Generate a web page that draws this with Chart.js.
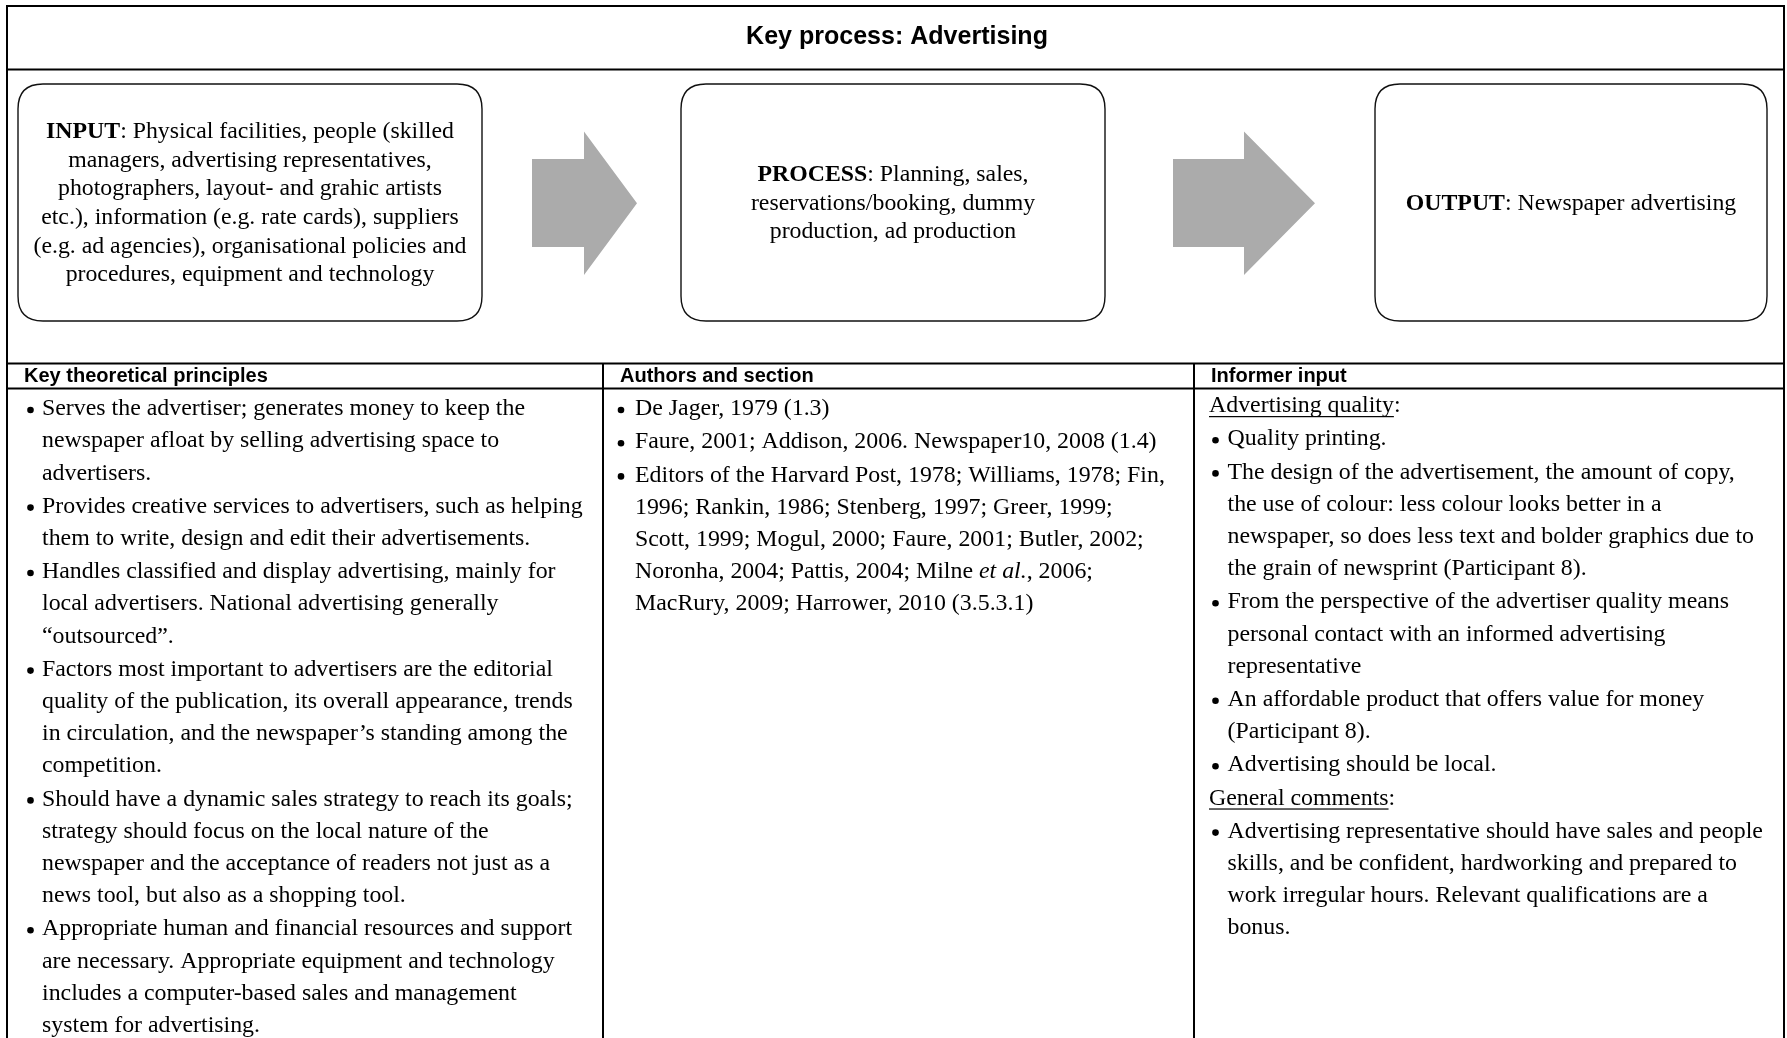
<!DOCTYPE html>
<html>
<head>
<meta charset="utf-8">
<title>Key process: Advertising</title>
<script src="https://cdn.jsdelivr.net/npm/chart.js@4.4.1/dist/chart.umd.min.js"></script>
<style>
  html, body { margin: 0; padding: 0; background: #fff; }
  #board { display: block; }
</style>
</head>
<body>
<canvas id="board" width="1787" height="1038"></canvas>
<script>
// ---- content ----
// markup: [b]..[/b] bold, [i]..[/i] italic, [u]..[/u] underline
const title = 'Key process: Advertising';

const inputLines = [
    '[b]INPUT[/b]: Physical facilities, people (skilled',
    'managers, advertising representatives,',
    'photographers, layout- and grahic artists',
    'etc.), information (e.g. rate cards), suppliers',
    '(e.g. ad agencies), organisational policies and',
    'procedures, equipment and technology'
];
const processLines = [
    '[b]PROCESS[/b]: Planning, sales,',
    'reservations/booking, dummy',
    'production, ad production'
];
const outputLines = [
    '[b]OUTPUT[/b]: Newspaper advertising'
];

const columnHeads = ['Key theoretical principles', 'Authors and section', 'Informer input'];

// arrays = bullet points (one string per printed line), strings = plain lines
const principles = [
    ['Serves the advertiser; generates money to keep the',
     'newspaper afloat by selling advertising space to',
     'advertisers.'],
    ['Provides creative services to advertisers, such as helping',
     'them to write, design and edit their advertisements.'],
    ['Handles classified and display advertising, mainly for',
     'local advertisers. National advertising generally',
     '\u201coutsourced\u201d.'],
    ['Factors most important to advertisers are the editorial',
     'quality of the publication, its overall appearance, trends',
     'in circulation, and the newspaper\u2019s standing among the',
     'competition.'],
    ['Should have a dynamic sales strategy to reach its goals;',
     'strategy should focus on the local nature of the',
     'newspaper and the acceptance of readers not just as a',
     'news tool, but also as a shopping tool.'],
    ['Appropriate human and financial resources and support',
     'are necessary. Appropriate equipment and technology',
     'includes a computer-based sales and management',
     'system for advertising.']
];

const authors = [
    ['De Jager, 1979 (1.3)'],
    ['Faure, 2001; Addison, 2006. Newspaper10, 2008 (1.4)'],
    ['Editors of the Harvard Post, 1978; Williams, 1978; Fin,',
     '1996; Rankin, 1986; Stenberg, 1997; Greer, 1999;',
     'Scott, 1999; Mogul, 2000; Faure, 2001; Butler, 2002;',
     'Noronha, 2004; Pattis, 2004; Milne [i]et al.[/i], 2006;',
     'MacRury, 2009; Harrower, 2010 (3.5.3.1)']
];

const informer = [
    '[u]Advertising quality[/u]:',
    ['Quality printing.'],
    ['The design of the advertisement, the amount of copy,',
     'the use of colour: less colour looks better in a',
     'newspaper, so does less text and bolder graphics due to',
     'the grain of newsprint (Participant 8).'],
    ['From the perspective of the advertiser quality means',
     'personal contact with an informed advertising',
     'representative'],
    ['An affordable product that offers value for money',
     '(Participant 8).'],
    ['Advertising should be local.'],
    '[u]General comments[/u]:',
    ['Advertising representative should have sales and people',
     'skills, and be confident, hardworking and prepared to',
     'work irregular hours. Relevant qualifications are a',
     'bonus.']
];

// ---- drawing helpers ----
const SERIF = '"Liberation Serif", "Times New Roman", serif';
const SANS = '"Liberation Sans", Arial, sans-serif';

function parseMarkup(str) {
    const segs = [];
    let b = false, i = false, u = false;
    str.split(/(\[\/?[biu]\])/).forEach(p => {
        if (p === '[b]') b = true;
        else if (p === '[/b]') b = false;
        else if (p === '[i]') i = true;
        else if (p === '[/i]') i = false;
        else if (p === '[u]') u = true;
        else if (p === '[/u]') u = false;
        else if (p) segs.push({ text: p, b, i, u });
    });
    return segs;
}

function segFont(s, size) {
    return (s.i ? 'italic ' : '') + (s.b ? 'bold ' : '') + size + 'px ' + SERIF;
}

function richWidth(ctx, str, size) {
    let w = 0;
    parseMarkup(str).forEach(s => { ctx.font = segFont(s, size); w += ctx.measureText(s.text).width; });
    return w;
}

function drawRich(ctx, str, x, y, size, align) {
    const segs = parseMarkup(str);
    let total = 0;
    segs.forEach(s => { ctx.font = segFont(s, size); s.w = ctx.measureText(s.text).width; total += s.w; });
    let cx = align === 'center' ? x - total / 2 : x;
    ctx.textAlign = 'left';
    ctx.textBaseline = 'middle';
    segs.forEach(s => {
        ctx.font = segFont(s, size);
        ctx.fillText(s.text, cx, y);
        if (s.u) ctx.fillRect(cx, y + size * 0.42, s.w, 1.2);
        cx += s.w;
    });
}

// font size so that a sample line is as wide as in the reference
function fitSerif(ctx, str, target) {
    return 100 * target / richWidth(ctx, str, 100);
}
function fitSans(ctx, str, target) {
    ctx.font = 'bold 100px ' + SANS;
    return 100 * target / ctx.measureText(str).width;
}

function roundBox(ctx, x0, y0, x1, y1, r) {
    ctx.beginPath();
    ctx.moveTo(x0 + r, y0);
    ctx.lineTo(x1 - r, y0);
    ctx.quadraticCurveTo(x1, y0, x1, y0 + r);
    ctx.lineTo(x1, y1 - r);
    ctx.quadraticCurveTo(x1, y1, x1 - r, y1);
    ctx.lineTo(x0 + r, y1);
    ctx.quadraticCurveTo(x0, y1, x0, y1 - r);
    ctx.lineTo(x0, y0 + r);
    ctx.quadraticCurveTo(x0, y0, x0 + r, y0);
    ctx.closePath();
    ctx.stroke();
}

function blockArrow(ctx, px, py, tail, neck, tip, top, bottom, shaftTop, shaftBottom) {
    const mid = (top + bottom) / 2;
    ctx.beginPath();
    ctx.moveTo(px(tail), py(shaftTop));
    ctx.lineTo(px(neck), py(shaftTop));
    ctx.lineTo(px(neck), py(top));
    ctx.lineTo(px(tip), py(mid));
    ctx.lineTo(px(neck), py(bottom));
    ctx.lineTo(px(neck), py(shaftBottom));
    ctx.lineTo(px(tail), py(shaftBottom));
    ctx.closePath();
    ctx.fill();
}

const diagramPlugin = {
    id: 'processDiagram',
    afterDraw(chart) {
        const ctx = chart.ctx;
        const xs = chart.scales.x, ys = chart.scales.y;
        const px = v => xs.getPixelForValue(v);
        const py = v => ys.getPixelForValue(v);
        ctx.save();
        ctx.fillStyle = '#000';

        // outer frame and grid lines
        ctx.strokeStyle = '#000';
        ctx.lineWidth = 2;
        const L = 7, R = 1784, T = 6, B = 1045;
        ctx.strokeRect(px(L), py(T), px(R) - px(L), py(B) - py(T));
        const hline = (y, x0, x1) => { ctx.beginPath(); ctx.moveTo(px(x0), py(y)); ctx.lineTo(px(x1), py(y)); ctx.stroke(); };
        const vline = (x, y0, y1) => { ctx.beginPath(); ctx.moveTo(px(x), py(y0)); ctx.lineTo(px(x), py(y1)); ctx.stroke(); };
        hline(69.5, L, R);
        hline(363.5, L, R);
        hline(388.5, L, R);
        const colX = [L, 603, 1194];
        vline(603, 363.5, B);
        vline(1194, 363.5, B);

        // title
        const titleSize = fitSans(ctx, title, 302);
        ctx.font = 'bold ' + titleSize + 'px ' + SANS;
        ctx.textAlign = 'center';
        ctx.textBaseline = 'middle';
        ctx.fillText(title, px(897), py(37.5));

        // rounded process boxes
        ctx.lineWidth = 1.4;
        ctx.strokeStyle = '#111';
        const boxSize = fitSerif(ctx, inputLines[0], 408);
        const boxLH = 28.6;
        const boxes = [
            { x0: 18, x1: 482, lines: inputLines },
            { x0: 681, x1: 1105, lines: processLines },
            { x0: 1375, x1: 1767, lines: outputLines }
        ];
        const boxTop = 84, boxBottom = 321;
        boxes.forEach(bx => {
            roundBox(ctx, px(bx.x0), py(boxTop), px(bx.x1), py(boxBottom), 25);
            const cx = (bx.x0 + bx.x1) / 2;
            const cy = (boxTop + boxBottom) / 2 + 1;
            const first = cy - (bx.lines.length - 1) / 2 * boxLH;
            bx.lines.forEach((ln, k) => drawRich(ctx, ln, px(cx), py(first + k * boxLH), boxSize, 'center'));
        });

        // grey block arrows
        ctx.fillStyle = '#ababab';
        blockArrow(ctx, px, py, 532, 584, 637, 131.5, 275, 159, 247);
        blockArrow(ctx, px, py, 1173, 1244, 1315, 131.5, 275, 159, 247);
        ctx.fillStyle = '#000';

        // column headings
        const headSize = fitSans(ctx, columnHeads[0], 244);
        ctx.font = 'bold ' + headSize + 'px ' + SANS;
        ctx.textAlign = 'left';
        ctx.textBaseline = 'middle';
        columnHeads.forEach((h, k) => ctx.fillText(h, px(colX[k] + 17), py(376.5)));

        // body columns
        const bodySize = fitSerif(ctx, principles[0][0], 483);
        const LH = 32.2, GAP = 1;
        const columns = [
            { items: principles, bullet: 30.5, text: 42, y0: 409 },
            { items: authors, bullet: 621, text: 635, y0: 409 },
            { items: informer, bullet: 1215.5, text: 1227.5, plain: 1209, y0: 406 }
        ];
        columns.forEach(col => {
            let y = col.y0;
            col.items.forEach((item, idx) => {
                if (idx > 0) y += GAP;
                if (typeof item === 'string') {
                    drawRich(ctx, item, px(col.plain), py(y), bodySize, 'left');
                    y += LH;
                } else {
                    ctx.beginPath();
                    ctx.arc(px(col.bullet), py(y + 1), 3.3, 0, Math.PI * 2);
                    ctx.fill();
                    item.forEach(ln => {
                        drawRich(ctx, ln, px(col.text), py(y), bodySize, 'left');
                        y += LH;
                    });
                }
            });
        });
        ctx.restore();
    }
};

new Chart(document.getElementById('board'), {
    type: 'scatter',
    data: { datasets: [] },
    options: {
        responsive: false,
        animation: false,
        layout: { padding: 0 },
        plugins: { legend: { display: false }, tooltip: { enabled: false } },
        scales: {
            x: { type: 'linear', min: 0, max: 1787, display: false },
            y: { type: 'linear', min: 0, max: 1038, reverse: true, display: false }
        }
    },
    plugins: [diagramPlugin]
});
</script>
</body>
</html>
